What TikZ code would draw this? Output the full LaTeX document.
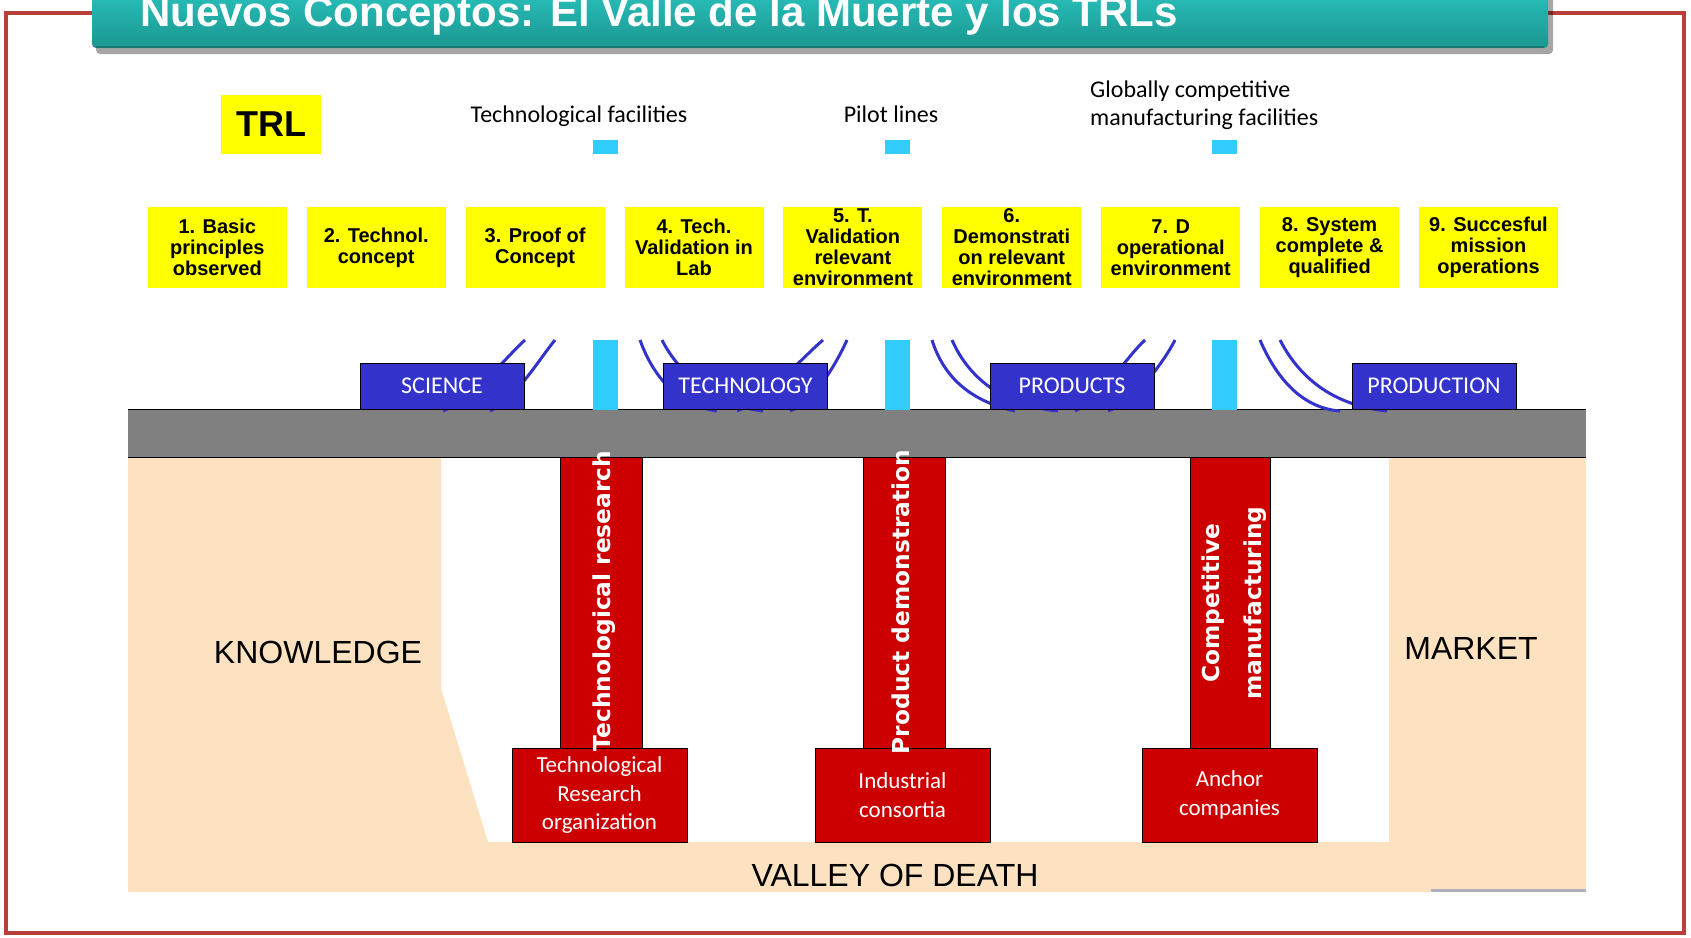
\documentclass[tikz,border=0pt]{standalone}
\usepackage{fontspec}
\setmainfont{Liberation Sans}
\newfontfamily\carlitofont{Carlito}
\newfontfamily\dejavufont{DejaVu Sans}
\usepackage{xcolor}

\definecolor{framered}{RGB}{184,64,58}
\definecolor{titletop}{RGB}{40,192,187}
\definecolor{titlebot}{RGB}{28,150,144}
\definecolor{trlyellow}{RGB}{255,255,0}
\definecolor{postcyan}{RGB}{51,204,255}
\definecolor{sciblue}{RGB}{51,51,204}
\definecolor{deckgray}{RGB}{128,128,128}
\definecolor{valleybeige}{RGB}{252,226,193}
\definecolor{pillarred}{RGB}{204,0,0}
\definecolor{edgegray}{RGB}{176,176,186}

\begin{document}
\begin{tikzpicture}[x=1pt, y=-1pt,
    trlbox/.style={fill=trlyellow, minimum width=139pt, minimum height=81pt, inner sep=0pt, align=center, font=\bfseries\fontsize{20}{21}\selectfont},
    stagebox/.style={draw=black, fill=sciblue, text=white, minimum width=164pt, minimum height=46pt, inner sep=0pt, font=\carlitofont\fontsize{24}{28}\selectfont},
    cable/.style={draw=sciblue, line width=3pt},
    pillar/.style={draw=black, fill=pillarred, line width=1pt, minimum width=82pt, minimum height=291pt, inner sep=0pt},
    orgbox/.style={draw=black, fill=pillarred, line width=1pt, text=white, minimum width=175pt, minimum height=94pt, inner sep=0pt, align=center, font=\carlitofont\fontsize{23}{28.5}\selectfont},
    pillartext/.style={rotate=90, text=white, inner sep=0pt, align=center, font=\dejavufont\bfseries\fontsize{23.3}{42}\selectfont},
    bigtext/.style={font=\fontsize{32}{36}\selectfont}]
    \useasboundingbox (0,0) rectangle (1691,937);

    % Frame
    \draw[framered, line width=3.5pt] (6,13) rectangle (1684,933);

    % Title bar
    \fill[black, opacity=0.35, rounded corners=4pt] (96,-10) rectangle (1553,54);
    \shade[top color=titletop, bottom color=titlebot, rounded corners=4pt] (92,-10) rectangle (1548,48);
    \draw[titlebot!80!black, line width=1.5pt] (96,47) -- (1544,47);
    \node[anchor=base west, text=white, inner sep=0pt, font=\bfseries\fontsize{42}{46}\selectfont] (title) at (140,26) {Nuevos Conceptos: El Valle de la Muerte y los TRLs};

    % TRL header and facilities
    \node[fill=trlyellow, minimum width=100pt, minimum height=59pt, font=\bfseries\fontsize{36}{40}\selectfont] (trl) at (271,124.5) {TRL};
    \node[font=\carlitofont\fontsize{24}{28}\selectfont] (techfac) at (579,116) {Technological facilities};
    \node[font=\carlitofont\fontsize{24}{28}\selectfont] (pilot) at (891,114) {Pilot lines};
    \node[anchor=west, align=left, inner sep=0pt, font=\carlitofont\fontsize{24}{28}\selectfont] (globfac) at (1090,105) {Globally competitive\\manufacturing facilities};

    % TRL levels
    \foreach \txt [count=\i] in {{1. Basic\\principles\\observed}, {2. Technol.\\concept}, {3. Proof of\\Concept}, {4. Tech.\\Validation in\\Lab}, {5. T.\\Validation\\relevant\\environment}, {6.\\Demonstrati\\on relevant\\environment}, {7. D\\operational\\environment}, {8. System\\complete \&\\qualified}, {9. Succesful\\mission\\operations}}
        \node[trlbox] (trl\i) at ({217.3+(\i-1)*158.9},247.5) {\txt};

    % Valley ground
    \fill[valleybeige] (128,457) -- (441,457) -- (441,688) -- (488,842) -- (1389,842) -- (1389,457) -- (1586,457) -- (1586,892) -- (128,892) -- cycle;
    \draw[edgegray, line width=3pt] (1431,890) -- (1586,890);

    % Deck
    \fill[deckgray] (128,409) rectangle (1586,457);
    \draw[line width=1pt] (128,409) -- (1586,409) (128,457) -- (1586,457);

    % Cables
    \draw[cable] (525,340) .. controls (508,355) and (475,397) .. (443,411);
    \draw[cable] (555,340) .. controls (540,358) and (515,400) .. (490,411);
    \draw[cable] (640,340) .. controls (650,368) and (672,405) .. (717,411);
    \draw[cable] (662,340) .. controls (676,368) and (710,405) .. (763,411);
    \draw[cable] (823,340) .. controls (805,355) and (765,400) .. (737,411);
    \draw[cable] (847,340) .. controls (838,360) and (815,402) .. (790,411);
    \draw[cable] (932,340) .. controls (942,372) and (965,400) .. (1015,411);
    \draw[cable] (952,340) .. controls (965,370) and (995,405) .. (1058,411);
    \draw[cable] (1145,340) .. controls (1128,355) and (1100,400) .. (1075,411);
    \draw[cable] (1175,340) .. controls (1165,360) and (1135,402) .. (1108,411);
    \draw[cable] (1260,340) .. controls (1275,375) and (1300,408) .. (1340,411);
    \draw[cable] (1280,340) .. controls (1298,375) and (1330,405) .. (1387,411);

    % Stages on the deck
    \node[stagebox] (science) at (442,386) {SCIENCE};
    \node[stagebox] (technology) at (745.5,386) {TECHNOLOGY};
    \node[stagebox] (products) at (1072,386) {PRODUCTS};
    \node[stagebox] (production) at (1434,386) {PRODUCTION};

    % Posts and facility marks
    \foreach \px in {593,885,1212} {
        \fill[postcyan] (\px,140) rectangle ++(25,14);
        \fill[postcyan] (\px,340) rectangle ++(25,70);
    }

    % Pillars
    \node[pillar] (pil1) at (601.5,602.5) {};
    \node[pillar] (pil2) at (904,602.5) {};
    \node[pillar, minimum width=80pt] (pil3) at (1230,602.5) {};
    \node[orgbox] (org1) at (599.5,795) {Technological\\Research\\organization};
    \node[orgbox] (org2) at (902.5,795) {Industrial\\consortia};
    \node[orgbox] (org3) at (1229.5,795) {Anchor\\companies};
    \node[pillartext] (pt1) at (604,601) {Technological research};
    \node[pillartext] (pt2) at (901,602) {Product demonstration};
    \node[pillartext] (pt3) at (1234,603) {Competitive\\manufacturing};

    % Regions
    \node[bigtext] (knowledge) at (318,652) {KNOWLEDGE};
    \node[bigtext] (market) at (1471,648) {MARKET};
    \node[bigtext] (valley) at (895,875) {VALLEY OF DEATH};
\end{tikzpicture}
\end{document}
